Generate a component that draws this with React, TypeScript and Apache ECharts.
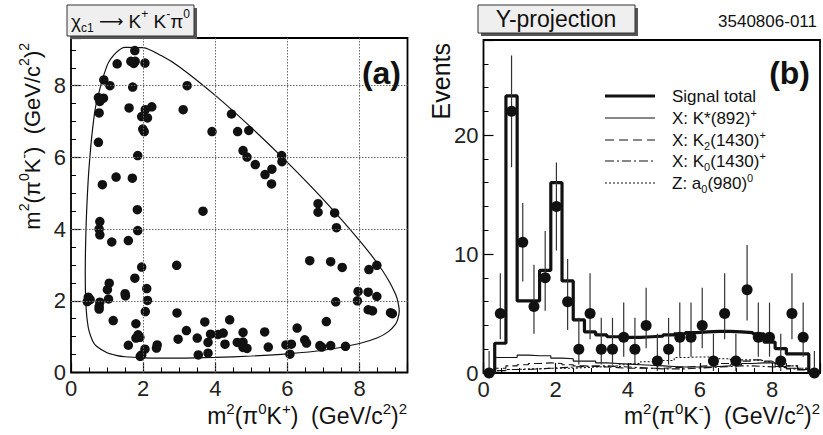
import React, { useEffect, useRef } from "react";
import * as echarts from "echarts";

const FONT = '"Liberation Sans", Arial, Helvetica, sans-serif';

// ---------- Panel (a): Dalitz plot ----------
const dalitzEvents: number[][] = [
  [1.77, 8.98], [1.28, 8.61], [1.66, 8.68], [1.78, 8.68], [1.74, 8.62], [2.05, 8.63],
  [0.91, 8.16], [1.08, 8.0], [1.71, 7.96], [3.22, 8.0], [0.76, 7.67], [0.9, 7.65],
  [0.8, 7.56], [0.78, 7.24], [1.61, 7.38], [3.11, 7.33], [2.06, 7.33], [2.24, 7.41],
  [1.96, 7.14], [2.12, 7.1], [1.99, 6.79], [2.03, 6.72], [4.45, 7.21], [3.91, 6.72],
  [4.62, 6.72], [4.93, 6.75], [0.76, 6.42], [4.77, 6.19], [4.88, 6.01], [1.85, 6.05],
  [5.11, 5.8], [5.84, 6.05], [5.85, 5.88], [5.38, 5.52], [5.57, 5.67], [5.56, 5.26],
  [1.25, 5.45], [1.7, 5.42], [0.87, 5.24], [1.84, 4.54], [3.66, 4.5], [6.85, 4.71],
  [6.85, 4.47], [7.31, 4.45], [7.36, 4.04], [0.8, 4.21], [0.78, 4.0], [0.8, 3.84],
  [1.85, 3.96], [1.13, 3.64], [1.59, 3.68], [2.93, 2.99], [1.96, 2.94], [1.77, 2.63],
  [6.62, 3.12], [7.2, 3.09], [7.52, 2.93], [8.48, 2.99], [8.26, 2.87], [1.06, 2.49],
  [1.01, 2.31], [2.1, 2.34], [1.5, 2.2], [1.51, 2.14], [1.04, 2.05], [2.12, 2.01],
  [0.48, 2.1], [0.53, 2.03], [0.45, 1.98], [0.8, 1.96], [0.78, 1.84], [0.78, 1.77],
  [2.06, 1.7], [1.17, 1.45], [2.94, 1.66], [7.94, 2.0], [7.96, 2.26], [8.24, 2.24],
  [7.34, 1.97], [8.48, 2.12], [8.24, 1.75], [8.36, 1.72], [8.86, 1.67], [8.91, 1.64],
  [7.08, 1.42], [1.8, 1.36], [3.71, 1.41], [4.4, 1.47], [3.2, 1.17], [6.27, 1.24],
  [5.37, 1.13], [4.77, 1.12], [3.87, 1.07], [4.08, 1.06], [4.22, 1.1], [1.86, 1.05],
  [1.8, 0.96], [1.91, 0.98], [2.97, 0.93], [3.5, 0.96], [3.8, 0.84], [4.27, 0.79],
  [4.61, 0.84], [4.77, 0.85], [4.77, 0.7], [4.88, 0.67], [1.59, 0.76], [2.39, 0.77],
  [2.37, 0.68], [2.05, 0.65], [1.96, 0.49], [1.92, 0.45], [3.53, 0.49], [3.8, 0.54],
  [5.47, 0.71], [5.96, 0.77], [6.11, 0.79], [6.07, 0.51], [6.48, 0.91], [6.53, 0.82],
  [6.9, 0.75], [6.95, 0.71], [7.2, 0.75], [7.61, 0.73],
];

const boundaryX = [
  0.3953, 0.4, 0.42, 0.45, 0.5, 0.6, 0.7, 1.0, 1.25, 1.5, 2.0, 2.5, 3, 4, 5, 6, 7, 8, 8.5, 8.8,
  9.0, 9.06, 9.102, 9.06, 9.0, 8.8, 8.5, 8, 7, 6, 5, 4, 3, 2.5, 2, 1.5, 1.25, 1.0, 0.7, 0.6,
  0.5, 0.45, 0.42, 0.4, 0.3953,
];
const boundaryY = [
  2.77, 3.33, 4.14, 4.87, 5.72, 6.81, 7.5, 8.56, 8.92, 9.07, 9.06, 8.84, 8.53, 7.73, 6.83, 5.86,
  4.82, 3.68, 3.04, 2.58, 2.18, 1.99, 1.71, 1.49, 1.35, 1.14, 0.97, 0.81, 0.62, 0.52, 0.46, 0.42,
  0.4, 0.4, 0.41, 0.44, 0.48, 0.55, 0.74, 0.88, 1.16, 1.45, 1.79, 2.29, 2.77,
];

const dalitzMax = 9.33;
const dalitzGridTicks = [2, 4, 6, 8];

// ---------- Panel (b): Y projection ----------
const projMaxX = 9.33;
const projMaxY = 28;
const binCount = 30;
const projCounts = [0, 5, 22, 11, 5.6, 8, 14, 6, 2, 5, 2, 2, 3, 2, 4, 1, 2, 3, 3, 4, 1, 5, 1, 7, 3, 3, 1, 5, 3, 0];
const projErrLow = [0, 2.84, 17.3, 7.7, 3.3, 5.23, 10.3, 3.62, 0.71, 2.84, 0.71, 0.71, 1.37, 0.71, 2.09, 0.17, 0.71, 1.37, 1.37, 2.09, 0.17, 2.84, 0.17, 4.42, 1.37, 1.37, 0.17, 2.84, 1.37, 0];
const projErrHigh = [1.84, 8.38, 26.7, 14.3, 9.1, 11.95, 17.7, 9.58, 4.64, 8.38, 4.64, 4.64, 5.92, 4.64, 7.16, 3.3, 4.64, 5.92, 5.92, 7.16, 3.3, 8.38, 3.3, 10.77, 5.92, 5.92, 3.3, 8.38, 5.92, 1.84];
const signalTotal = [0, 2.5, 23.3, 6.06, 6.06, 8.63, 16.0, 7.74, 4.46, 3.45, 3.2, 3.05, 3.0, 3.0, 3.05, 3.1, 3.2, 3.3, 3.4, 3.45, 3.5, 3.5, 3.45, 3.4, 3.3, 2.6, 2.05, 1.6, 1.6, 0];
const kstar892 = [0, 1.3, 1.3, 1.5, 1.45, 1.45, 1.25, 1.2, 1.0, 1.0, 0.85, 0.8, 0.75, 0.7, 0.65, 0.6, 0.55, 0.5, 0.5, 0.5, 0.55, 0.6, 0.7, 0.8, 0.85, 0.85, 0.55, 0.4, 0.3, 0];
const k2_1430 = [0, 0.4, 0.6, 0.7, 0.8, 0.85, 0.8, 0.7, 0.6, 0.55, 0.5, 0.45, 0.4, 0.4, 0.4, 0.4, 0.45, 0.5, 0.55, 0.6, 0.7, 0.8, 0.9, 1.0, 1.1, 1.0, 0.8, 0.6, 0.4, 0];
const k0_1430 = [0, 0.2, 0.3, 0.3, 0.35, 0.4, 0.45, 0.5, 0.55, 0.6, 0.6, 0.55, 0.5, 0.45, 0.4, 0.35, 0.35, 0.35, 0.4, 0.45, 0.5, 0.55, 0.6, 0.6, 0.55, 0.5, 0.45, 0.35, 0.25, 0];
const a0_980 = [0, 0.2, 0.3, 0.35, 0.35, 0.4, 0.4, 0.4, 0.45, 0.5, 0.55, 0.6, 0.7, 0.8, 0.95, 0.95, 1.05, 1.3, 1.35, 1.35, 1.3, 1.2, 1.1, 1.1, 1.05, 0.95, 0.8, 0.6, 0.4, 0];

const legendLabels = [
  "{n|Signal total}",
  "{n|X: K*(892)}{s|+}",
  "{n|X: K}{b|2}{n|(1430)}{s|+}",
  "{n|X: K}{b|0}{n|(1430)}{s|+}",
  "{n|Z: a}{b|0}{n|(980)}{s|0}",
];
const legendDash: (number[] | null)[] = [null, null, [9, 5], [9, 3, 2, 3], [2, 2]];
const legendWidth = [3.2, 1.2, 1.2, 1.2, 1.2];

// ---------- helpers ----------
const binWidth = projMaxX / binCount;
const stepData = (vals: number[]) => {
  const d = vals.map((v, i) => [i * binWidth, v]);
  d.push([binCount * binWidth, vals[vals.length - 1]]);
  d.push([binCount * binWidth, 0]);
  return d;
};

const evenLabel = (step: number) => (v: number) =>
  Math.abs(v / step - Math.round(v / step)) < 1e-6 ? String(Math.round(v)) : "";

const majorAxis = (gridIndex: number, max: number, interval: number, position: string) => ({
  type: "value",
  gridIndex,
  position,
  min: 0,
  max,
  interval,
  axisLine: { show: false },
  axisTick: { show: true, inside: true, length: 10, lineStyle: { color: "#000", width: 1.2 } },
  minorTick: { show: false },
  axisLabel: {
    fontSize: 22,
    fontFamily: FONT,
    color: "#222",
    margin: 5,
    formatter: evenLabel(interval),
  },
  splitLine: { show: false },
});

const minorAxis = (gridIndex: number, max: number, interval: number, position: string) => ({
  type: "value",
  gridIndex,
  position,
  min: 0,
  max,
  interval,
  axisLine: { show: false },
  axisTick: { show: true, inside: true, length: 5, lineStyle: { color: "#000", width: 1 } },
  axisLabel: { show: false },
  splitLine: { show: false },
});

const richBase = (n: number, lh: number, s: number) => ({
  n: { fontSize: n, fontFamily: FONT, lineHeight: lh, fill: "#111", color: "#111" },
  a: { fontSize: n - 2, fontFamily: '"DejaVu Sans", sans-serif', lineHeight: lh, fill: "#111", color: "#111" },
  s: { fontSize: s, fontFamily: FONT, lineHeight: Math.round(s * 0.9), verticalAlign: "top", fill: "#111", color: "#111" },
  b: { fontSize: s, fontFamily: FONT, lineHeight: Math.round(s * 0.9), verticalAlign: "bottom", fill: "#111", color: "#111" },
});

const axisTitle = (label: string) =>
  `{n|m}{s|2}{n|(π}{s|0}{n|K}{s|${label}}{n|)\u00a0\u00a0(GeV/c}{s|2}{n|)}{s|2}`;

export default function App() {
  const ref = useRef<HTMLDivElement>(null);

  useEffect(() => {
    document.body.style.margin = "0";
    const chart = echarts.init(ref.current as HTMLDivElement, undefined, { renderer: "svg" });

    const graphics: any[] = [];
    // Title box (a)
    graphics.push({ type: "rect", z: 100, shape: { x: 70, y: 8, width: 127, height: 31 }, style: { fill: "#555" } });
    graphics.push({ type: "rect", z: 101, shape: { x: 67, y: 5, width: 127, height: 31 }, style: { fill: "#efefef", stroke: "#333", lineWidth: 1 } });
    graphics.push({
      type: "text", z: 102, x: 71, y: 21,
      style: {
        text: "{n|χ}{b|c1}{n|\u00a0}{a|⟶}{n|\u00a0K}{s|+}{n| K}{s|-}{n|π}{s|0}",
        rich: richBase(19, 26, 12), align: "left", verticalAlign: "middle",
      },
    });
    // Title box (b)
    graphics.push({ type: "rect", z: 100, shape: { x: 481, y: 8, width: 157, height: 28 }, style: { fill: "#555" } });
    graphics.push({ type: "rect", z: 101, shape: { x: 478, y: 5, width: 157, height: 28 }, style: { fill: "#efefef", stroke: "#333", lineWidth: 1 } });
    graphics.push({
      type: "text", z: 102, x: 556, y: 19,
      style: { text: "Y-projection", fontSize: 23, fontFamily: FONT, fill: "#111", align: "center", verticalAlign: "middle" },
    });
    graphics.push({
      type: "text", z: 102, x: 817, y: 21,
      style: { text: "3540806-011", fontSize: 17, fontFamily: FONT, fill: "#111", align: "right", verticalAlign: "middle" },
    });
    graphics.push({
      type: "text", z: 102, x: 401, y: 73,
      style: { text: "(a)", fontSize: 32, fontWeight: "bold", fontFamily: FONT, fill: "#111", align: "right", verticalAlign: "middle" },
    });
    graphics.push({
      type: "text", z: 102, x: 810, y: 73,
      style: { text: "(b)", fontSize: 32, fontWeight: "bold", fontFamily: FONT, fill: "#111", align: "right", verticalAlign: "middle" },
    });
    // Axis titles
    graphics.push({
      type: "text", z: 102, x: 407, y: 416,
      style: { text: axisTitle("+"), rich: richBase(23, 30, 15), align: "right", verticalAlign: "middle" },
    });
    graphics.push({
      type: "text", z: 102, x: 820, y: 416,
      style: { text: axisTitle("-"), rich: richBase(23, 30, 15), align: "right", verticalAlign: "middle" },
    });
    graphics.push({
      type: "text", z: 102, x: 32, y: 43, rotation: Math.PI / 2,
      style: { text: axisTitle("-"), rich: richBase(22, 30, 14), align: "right", verticalAlign: "middle" },
    });
    graphics.push({
      type: "text", z: 102, x: 441, y: 43, rotation: Math.PI / 2,
      style: { text: "Events", fontSize: 25, fontFamily: FONT, fill: "#111", align: "right", verticalAlign: "middle" },
    });
    // Legend (b)
    const legendY = [96, 118, 140, 161, 183];
    legendLabels.forEach((lab, i) => {
      graphics.push({
        type: "line", z: 102,
        shape: { x1: 605, y1: legendY[i], x2: 655, y2: legendY[i] },
        style: { stroke: "#111", lineWidth: legendWidth[i], lineDash: legendDash[i] || undefined },
      });
      graphics.push({
        type: "text", z: 102, x: 672, y: legendY[i],
        style: { text: lab, rich: richBase(17, 22, 11), align: "left", verticalAlign: "middle" },
      });
    });

    const histLine = (name: string, vals: number[], width: number, dash: any, z: number) => ({
      name,
      type: "line",
      xAxisIndex: 2,
      yAxisIndex: 2,
      step: "end",
      data: stepData(vals),
      showSymbol: false,
      symbol: "none",
      clip: true,
      z,
      lineStyle: { color: "#111", width, type: dash },
    });

    const gridMarkLines = [
      ...dalitzGridTicks.map((v) => ({ xAxis: v })),
      ...dalitzGridTicks.map((v) => ({ yAxis: v })),
    ];

    const option: any = {
      animation: false,
      backgroundColor: "#fff",
      grid: [
        { left: 71, top: 38, width: 336.5, height: 334.5, show: true, borderColor: "#000", borderWidth: 1.8, backgroundColor: "transparent" },
        { left: 483.5, top: 40, width: 337, height: 333, show: true, borderColor: "#000", borderWidth: 1.8, backgroundColor: "transparent" },
      ],
      xAxis: [
        majorAxis(0, dalitzMax, 2, "bottom"),
        minorAxis(0, dalitzMax, 0.5, "bottom"),
        majorAxis(1, projMaxX, 2, "bottom"),
        minorAxis(1, projMaxX, 0.5, "bottom"),
      ],
      yAxis: [
        majorAxis(0, dalitzMax, 2, "left"),
        minorAxis(0, dalitzMax, 0.5, "left"),
        majorAxis(1, projMaxY, 10, "left"),
        minorAxis(1, projMaxY, 2, "left"),
      ],
      series: [
        {
          name: "boundary",
          type: "line",
          xAxisIndex: 0,
          yAxisIndex: 0,
          data: boundaryX.map((x, i) => [x, boundaryY[i]]),
          showSymbol: false,
          symbol: "none",
          smooth: 0.25,
          lineStyle: { color: "#111", width: 1.2 },
          z: 2,
          markLine: {
            silent: true,
            symbol: ["none", "none"],
            label: { show: false },
            lineStyle: { type: [1.5, 1.5], color: "#666", width: 1 },
            emphasis: { disabled: true },
            data: gridMarkLines,
          },
        },
        {
          name: "events",
          type: "scatter",
          xAxisIndex: 0,
          yAxisIndex: 0,
          data: dalitzEvents,
          symbol: "circle",
          symbolSize: 9.5,
          itemStyle: { color: "#111", opacity: 1 },
          z: 3,
        },
        histLine("a0", a0_980, 1.1, [2, 2], 2),
        histLine("K0", k0_1430, 1.1, [8, 3, 2, 3], 2),
        histLine("K2", k2_1430, 1.1, [8, 4], 2),
        histLine("Kstar", kstar892, 1.1, "solid", 2),
        histLine("Signal total", signalTotal, 3.2, "solid", 3),
        {
          name: "errors",
          type: "custom",
          xAxisIndex: 2,
          yAxisIndex: 2,
          clip: true,
          z: 4,
          data: projCounts.map((_, i) => [(i + 0.5) * binWidth, projErrLow[i], projErrHigh[i]]),
          encode: { x: 0, y: [1, 2] },
          renderItem: (_params: any, api: any) => {
            const p1 = api.coord([api.value(0), api.value(1)]);
            const p2 = api.coord([api.value(0), api.value(2)]);
            return {
              type: "line",
              shape: { x1: p1[0], y1: p1[1], x2: p2[0], y2: p2[1] },
              style: { stroke: "#333", lineWidth: 1.2 },
            };
          },
        },
        {
          name: "data",
          type: "scatter",
          xAxisIndex: 2,
          yAxisIndex: 2,
          data: projCounts.map((c, i) => [(i + 0.5) * binWidth, c]),
          symbol: "circle",
          symbolSize: 11,
          itemStyle: { color: "#111", opacity: 1 },
          clip: false,
          z: 5,
        },
      ],
      graphic: graphics,
    };

    chart.setOption(option);
    return () => chart.dispose();
  }, []);

  return <div ref={ref} style={{ width: 823, height: 435, background: "#fff" }} />;
}
